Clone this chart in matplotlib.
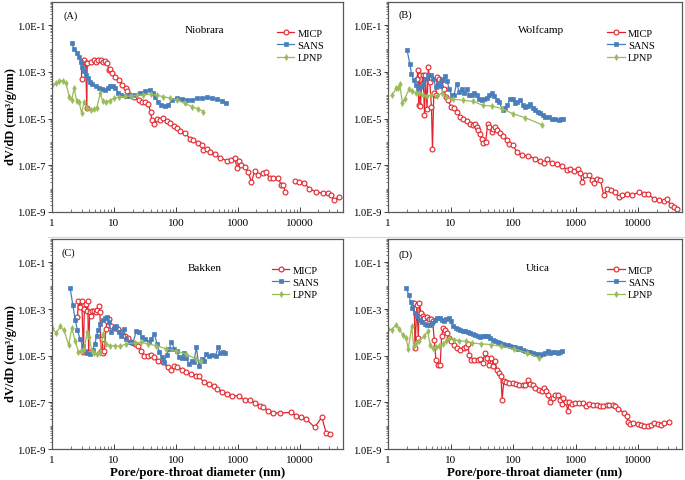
import numpy as np
import matplotlib
matplotlib.use("Agg")
import matplotlib.pyplot as plt
from matplotlib.ticker import FixedLocator, FuncFormatter, LogLocator, NullFormatter
from matplotlib.lines import Line2D

plt.rcParams['font.family'] = ['Liberation Serif', 'DejaVu Serif']

nan = np.nan

# ---------------- Panel A: Niobrara ----------------
micp_a_x = [3.0, 3.0, 3.3, 3.5, 3.65, 3.7, 4.2, 4.7, 5.1, 5.5, 6.1, 6.7, 7.3, 7.8, 8.3, 8.8, 9.4, 10.6, 12, 13.6,
            15.4, 16.4, 18.5, 21, 25, 28.5, 32, 36, 39, 41, 44, 50, 56, 63, 72, 81, 92, 104, 117, 141,
            170, 192, 231, 261, 278, 314, 355, 428, 514, 658, 791, 895, 975, 1050, 1145, 1295, 1465, 1660, 1875, 2120,
            2550, 2880, 3260, 3690, 4440, 5010, 5470, 5890, nan, 8410, 9880, 11900, 14300, 18300, 23400, 28100, 31800, 36000, 43300]
micp_a_y = [4.9e-4, 2.8e-3, 3.3e-3, 2.4e-3, 2.8e-5, 2.4e-3, 2.8e-3, 3.3e-3, 2.8e-3, 3.3e-3,
            3.3e-3, 2.8e-3, 3.1e-3, 2.4e-3, 1.2e-3, 1.4e-3, 8.7e-4, 6.3e-4, 4.5e-4, 2.8e-4,
            2.0e-4, 1.5e-4, 1.0e-4, 8.2e-5, 6.3e-5, 5.4e-5, 5.0e-5, 4.1e-5, 2.0e-5, 8.7e-6,
            5.7e-6, 1.0e-5, 8.7e-6, 1.1e-5, 7.9e-6, 6.3e-6, 4.9e-6, 3.9e-6, 3.0e-6, 2.4e-6,
            1.4e-6, 1.2e-6, 8.8e-7, 7.4e-7, 4.5e-7, 5.0e-7, 3.6e-7, 3.0e-7, 2.1e-7, 1.6e-7,
            1.7e-7, 2.0e-7, 7.4e-8, 1.5e-7, 1.0e-7, 8.7e-8, 5.4e-8, 1.9e-8, 5.7e-8, 3.9e-8,
            4.6e-8, 5.0e-8, 2.8e-8, 3.0e-8, 3.0e-8, 1.5e-8, 1.4e-8, 6.9e-9, nan, 2.1e-8,
            1.9e-8, 1.7e-8, 1.0e-8, 7.4e-9, 6.3e-9, 6.3e-9, 5.4e-9, 3.3e-9, 4.5e-9]
sans_a_x = [2.07, 2.28, 2.52, 2.75, 2.92, 3.1, 3.3, 3.5, 3.83, 4.1, 4.5, 5.1, 5.7, 6.5, 7.3, 8.0, 8.8, 9.6, 10.6, 11.6,
            12.8, 15.4, 18.5, 22.3, 26.8, 32, 38, 43, 46.6, 51, 57, 67, 76, 86, 104, 125, 150, 180, 217, 261,
            314, 378, 455, 547, 642]
sans_a_y = [1.7e-2, 1.0e-2, 6.7e-3, 4.3e-3, 2.8e-3, 1.7e-3, 1.1e-3, 7.4e-4, 5.4e-4, 3.9e-4,
            3.0e-4, 2.4e-4, 2.0e-4, 1.8e-4, 1.7e-4, 2.0e-4, 2.5e-4, 2.6e-4, 2.0e-4, 1.3e-4,
            1.0e-4, 9.7e-5, 9.7e-5, 1.0e-4, 1.2e-4, 1.5e-4, 1.7e-4, 1.3e-4, 8.8e-5, 5.4e-5,
            3.9e-5, 3.6e-5, 3.9e-5, 6.3e-5, 7.4e-5, 6.9e-5, 6.3e-5, 6.3e-5, 7.4e-5, 7.4e-5,
            8.2e-5, 7.4e-5, 6.9e-5, 5.9e-5, 4.9e-5]
lpnp_a_x = [1.0, 1.15, 1.3, 1.48, 1.68, 1.9, 2.07, 2.28, 2.5, 2.75, 3.0, 3.3, 3.7, 4.2, 4.7, 5.3, 6.0, 6.6, 7.4, 8.5,
            10, 12, 15, 19, 24, 30, 39, 50, 63, 80, 104, 140, 181, 230, 278]
lpnp_a_y = [2.8e-4, 3.3e-4, 4.1e-4, 4.3e-4, 3.3e-4, 8.8e-5, 6.3e-5, 2.0e-4, 5.7e-5, 5.0e-5,
            1.8e-5, 5.0e-5, 3.0e-5, 2.4e-5, 2.5e-5, 3.0e-5, 1.2e-4, 5.5e-5, 5.0e-5, 6.0e-5,
            7.5e-5, 8.5e-5, 9.0e-5, 9.5e-5, 1.0e-4, 1.05e-4, 1.1e-4, 1.0e-4, 8.8e-5, 7.5e-5,
            6.3e-5, 4.5e-5, 3.3e-5, 2.6e-5, 2.0e-5]

# ---------------- Panel B: Wolfcamp ----------------
micp_b_x = [2.92, 3.0, 3.1, 3.2, 3.3, 3.45, 3.64, 3.83, 3.97, 4.2, 4.4, 4.66, 4.95, 5.14, 5.4, 5.8, 6.1, 6.6, 7.2, 7.8,
            8.4, 9.2, 10.1, 11.5, 12.8, 14.1, 16, 18.1, 20.4, 23.1, 24.5, 26, 27.8, 29.6, 31.4, 33.4, 36.4, 39.2, 41.7, 45.5,
            48.3, 51.4, 56, 62, 70, 79, 87, 99, 115, 138, 176, 225, 271, 307, 347, 417, 502, 604, 726, 820,
            929, 1077, 1190, 1260, 1430, 1620, 1830, 1950, 2200, 2490, 2810, 3180, 3690, 4170, 4900, 5540, 6670, 8010, 10250, 12300,
            14300, 17800, 21500, 25800, 29200, 33000, 37300, 42300]
micp_b_y = [5.2e-4, 1.2e-3, 3.7e-5, 7.2e-4, 3.5e-5, 3.2e-4, 7.2e-4, 1.5e-5, 7.2e-4, 2.7e-5,
            1.6e-3, 3.7e-4, 3.2e-5, 5.2e-7, 1.3e-4, 1.0e-4, 6.1e-4, 5.2e-4, 4.4e-4, 1.9e-4,
            8.5e-5, 6.1e-5, 3.2e-5, 2.9e-5, 2.0e-5, 1.2e-5, 9.3e-6, 7.6e-6, 6.1e-6, 5.2e-6,
            6.1e-6, 4.4e-6, 3.2e-6, 2.3e-6, 1.4e-6, 9.3e-7, 1.0e-6, 6.1e-6, 4.4e-6, 2.7e-6,
            3.7e-6, 4.4e-6, 3.4e-6, 2.5e-6, 1.8e-6, 1.2e-6, 8.5e-7, 7.2e-7, 3.7e-7, 2.7e-7,
            2.5e-7, 1.9e-7, 1.5e-7, 1.3e-7, 1.8e-7, 1.2e-7, 1.1e-7, 9.3e-8, 6.1e-8, 7.2e-8,
            5.5e-8, 7.2e-8, 4.9e-8, 1.9e-8, 3.7e-8, 3.7e-8, 2.3e-8, 1.8e-8, 2.7e-8, 2.3e-8,
            5.2e-9, 9.3e-9, 8.5e-9, 7.2e-9, 4.4e-9, 5.2e-9, 6.1e-9, 5.2e-9, 7.2e-9, 6.1e-9,
            5.7e-9, 3.7e-9, 3.2e-9, 2.9e-9, 3.5e-9, 1.9e-9, 1.6e-9, 1.4e-9]
sans_b_x = [2.02, 2.23, 2.37, 2.58, 2.78, 3.03, 3.3, 3.64, 4.0, 4.4, 4.8, 5.3, 5.8, 6.3, 6.9, 7.4, 8.1, 8.8, 9.5, 10.4,
            11.3, 12.5, 13.8, 15, 16.4, 18.1, 19.9, 21.7, 23.7, 26, 28.8, 31.4, 34, 37.8, 41.7, 45.5, 49.6, 54.7, 60, 68,
            74, 81, 90, 99, 108, 117, 130, 143, 156, 170, 187, 207, 225, 249, 271, 299, 326, 369, 417, 472,
            533, 582, 626]
sans_b_y = [8.5e-3, 2.3e-3, 8.5e-4, 4.4e-4, 2.7e-4, 1.9e-4, 2.3e-4, 3.2e-4, 5.2e-4, 7.2e-4,
            7.7e-4, 5.2e-4, 2.3e-4, 3.2e-4, 2.5e-4, 4.4e-4, 6.8e-4, 4.0e-4, 1.9e-4, 1.0e-4,
            1.0e-4, 3.2e-4, 1.4e-4, 1.9e-4, 1.2e-4, 1.8e-4, 1.0e-4, 1.0e-4, 1.2e-4, 1.0e-4,
            7.2e-5, 6.1e-5, 7.2e-5, 7.6e-5, 1.0e-4, 1.2e-4, 9.5e-5, 6.5e-5, 5.2e-5, 2.3e-5,
            2.9e-5, 4.0e-5, 6.8e-5, 6.8e-5, 4.9e-5, 5.2e-5, 6.1e-5, 4.0e-5, 3.2e-5, 3.6e-5,
            4.4e-5, 2.9e-5, 2.3e-5, 1.9e-5, 1.8e-5, 1.4e-5, 1.2e-5, 1.2e-5, 1.0e-5, 9.8e-6,
            8.5e-6, 9.8e-6, 1.0e-5]
lpnp_b_x = [1.17, 1.36, 1.45, 1.54, 1.7, 1.85, 2.17, 2.46, 2.78, 3.14, 3.64, 4.2, 4.95, 5.96, 7.2, 8.6, 11, 16, 23, 33,
            45.5, 66, 101, 156, 288]
lpnp_b_y = [1.0e-4, 2.1e-4, 2.1e-4, 3.0e-4, 4.9e-5, 7.2e-5, 1.8e-4, 1.5e-4, 1.3e-4, 1.2e-4,
            1.0e-4, 9.6e-5, 1.0e-4, 9.6e-5, 1.2e-4, 8.5e-5, 6.8e-5, 6.1e-5, 5.5e-5, 3.7e-5,
            3.5e-5, 2.7e-5, 1.6e-5, 1.1e-5, 5.5e-6]

# ---------------- Panel C: Bakken ----------------
micp_c_x = [2.58, 2.67, 2.84, 3.02, 3.21, 3.33, 3.5, 3.63, 3.77, 3.91, 4.06, 4.21, 4.42, 4.76, 5.06, 5.38, 5.65, 5.93, 6.23, 6.47,
            6.71, 7.04, 7.4, 7.78, 8.37, 9.1, 10.3, 11.7, 13.2, 14.9, 16.9, 19.1, 21.5, 24.4, 27.5, 31.1, 35.2, 39.8, 45, 51,
            61, 74, 83, 94, 106, 125, 148, 174, 209, 236, 284, 342, 410, 464, 558, 671, 807, 1030, 1318, 1585,
            1905, 2290, 2590, 3110, 3740, 4790, 7360, 8850, 10600, 12800, 17400, 22800, 26700, 31000]
micp_c_y = [4.4e-4, 2.1e-3, 1.2e-3, 2.3e-3, 1.4e-5, 1.0e-3, 1.6e-3, 8.5e-4, 2.1e-3, 1.4e-5,
            7.2e-4, 4.9e-4, 8.5e-4, 8.5e-4, 7.2e-4, 9.3e-4, 1.4e-3, 7.2e-4, 1.6e-5, 5.2e-5,
            1.3e-5, 1.6e-5, 1.4e-4, 3.2e-4, 3.7e-4, 1.9e-4, 1.6e-4, 1.4e-4, 1.0e-4, 7.2e-5,
            5.5e-5, 3.7e-5, 3.2e-5, 2.5e-5, 1.6e-5, 9.3e-6, 1.0e-5, 1.1e-5, 8.5e-6, 6.1e-6,
            5.2e-6, 3.2e-6, 2.5e-6, 3.7e-6, 3.2e-6, 2.5e-6, 1.9e-6, 1.6e-6, 1.4e-6, 1.3e-6,
            7.2e-7, 6.1e-7, 4.9e-7, 3.7e-7, 2.9e-7, 2.3e-7, 1.9e-7, 1.9e-7, 1.2e-7, 1.3e-7,
            9.3e-8, 7.2e-8, 6.1e-8, 4.4e-8, 3.5e-8, 3.5e-8, 3.7e-8, 2.7e-8, 2.3e-8, 1.9e-8,
            8.5e-9, 2.3e-8, 4.9e-9, 4.4e-9]
sans_c_x = [1.96, 2.17, 2.36, 2.58, 2.84, 3.13, 3.41, 3.72, 4.1, 4.53, 4.94, 5.25, 5.58, 5.93, 6.55, 7.13, 7.78, 8.37, 9.1, 10,
            11, 12, 13.2, 14.4, 15.8, 17.9, 20.3, 22.9, 25.3, 28.6, 32.3, 36.5, 39.8, 45, 49.7, 54, 60, 65, 71, 78,
            85, 94, 103, 113, 125, 136, 148, 163, 180, 196, 214, 236, 261, 284, 310, 342, 386, 437, 482, 525,
            571, 615]
sans_c_y = [7.9e-3, 1.5e-3, 3.5e-4, 1.2e-4, 5.2e-5, 2.5e-5, 1.6e-5, 1.3e-5, 1.2e-5, 1.8e-5,
            3.2e-5, 7.2e-5, 1.2e-4, 2.3e-4, 3.5e-4, 4.0e-4, 4.4e-4, 2.7e-4, 1.0e-4, 1.5e-4,
            1.8e-4, 1.0e-4, 6.8e-5, 1.4e-4, 5.2e-5, 4.0e-5, 3.5e-5, 1.1e-4, 1.0e-4, 6.1e-5,
            5.2e-5, 4.0e-5, 5.2e-5, 8.5e-5, 3.2e-5, 1.4e-5, 8.5e-6, 5.2e-6, 1.1e-5, 1.9e-5,
            4.0e-5, 2.0e-5, 1.6e-5, 8.5e-6, 7.6e-6, 1.3e-5, 7.6e-6, 4.4e-6, 6.1e-6, 5.5e-6,
            2.3e-5, 3.7e-6, 7.2e-6, 6.1e-6, 1.2e-5, 1.0e-5, 1.1e-5, 1.0e-5, 2.3e-5, 1.3e-5,
            1.4e-5, 1.3e-5]
lpnp_c_x = [1.0, 1.17, 1.36, 1.57, 1.85, 2.09, 2.36, 2.67, 2.94, 3.29, 3.72, 4.0, 4.37, 4.82, 5.38, 5.93, 6.71, 7.4, 8.58, 10.3,
            12.4, 15.8, 21.5, 27.5, 35.2, 48, 69, 100, 144, 209, 251]
lpnp_c_y = [1.6e-4, 9.3e-5, 1.8e-4, 1.2e-4, 2.9e-5, 1.5e-4, 4.4e-5, 1.5e-5, 1.6e-5, 1.9e-5,
            1.0e-4, 6.1e-5, 1.6e-5, 1.3e-5, 1.2e-5, 1.3e-5, 8.5e-5, 3.2e-5, 2.7e-5, 2.7e-5,
            2.5e-5, 3.2e-5, 3.5e-5, 3.7e-5, 3.2e-5, 2.7e-5, 2.0e-5, 1.6e-5, 1.2e-5, 7.2e-6,
            6.1e-6]

# ---------------- Panel D: Utica ----------------
micp_d_x = [2.63, 2.7, 2.9, 3.05, 3.16, 3.36, 3.57, 3.8, 4.19, 4.57, 4.86, 5.16, 5.49, 5.83, 6.35, 6.84, 7.18, 7.64, 8.12, 8.74,
            9.5, 10.1, 11.5, 12.9, 14.3, 16.1, 17.6, 18.7, 19.9, 21.1, 23.9, 27, 29.7, 32.4, 35.3, 38, 41.4, 45.1, 48.5, 51,
            54.9, 59.8, 63.6, 66.7, 71, 77, 87, 99, 112, 126, 143, 157, 171, 187, 206, 227, 257, 290, 316, 336,
            357, 389, 429, 474, 516, 562, 598, 635, 701, 745, 792, 874, 988, 1117, 1294, 1462, 1652, 1914, 2163, 2444,
            2761, 3126, 3444, 3890, 4293, 4677, 5980, 6520, 6920, 7450, 8320, 9750, 11000, 12500, 14100, 15900, 18000, 20400, 23000, 26000,
            31200]
micp_d_y = [1.8e-3, 2.1e-5, 1.5e-3, 5.7e-5, 1.8e-3, 6.8e-4, 4.9e-4, 4.1e-4, 4.4e-4, 3.7e-4,
            3.9e-4, 3.2e-4, 4.9e-5, 6.8e-6, 4.1e-6, 4.1e-6, 6.8e-5, 1.5e-4, 1.2e-4, 9.3e-5,
            5.7e-5, 4.4e-5, 2.8e-5, 2.1e-5, 1.8e-5, 2.1e-5, 2.3e-5, 3.2e-5, 1.1e-5, 6.8e-6,
            6.8e-6, 6.8e-6, 7.4e-6, 4.9e-6, 1.3e-5, 7.9e-6, 3.9e-6, 7.9e-6, 3.5e-6, 5.7e-6,
            2.5e-6, 1.8e-6, 1.4e-6, 1.3e-7, 8.5e-7, 7.4e-7, 6.8e-7, 6.8e-7, 6.1e-7, 5.7e-7,
            5.4e-7, 5.7e-7, 9.3e-7, 6.1e-7, 5.4e-7, 4.1e-7, 3.5e-7, 3.0e-7, 4.1e-7, 3.2e-7,
            2.1e-7, 1.0e-7, 1.5e-7, 2.0e-7, 2.1e-7, 1.3e-7, 8.5e-8, 1.6e-7, 1.0e-7, 4.4e-8,
            1.0e-7, 8.5e-8, 9.3e-8, 9.3e-8, 9.3e-8, 6.8e-8, 8.5e-8, 7.4e-8, 7.4e-8, 6.8e-8,
            6.8e-8, 7.4e-8, 7.9e-8, 7.4e-8, 6.8e-8, 5.4e-8, 3.5e-8, 2.5e-8, 1.5e-8, 1.2e-8,
            1.3e-8, 1.2e-8, 1.1e-8, 1.0e-8, 9.3e-9, 1.1e-8, 1.3e-8, 1.2e-8, 1.1e-8, 1.3e-8,
            1.4e-8]
sans_d_x = [1.96, 2.16, 2.3, 2.44, 2.67, 2.9, 3.2, 3.53, 3.85, 4.19, 4.62, 5.1, 5.56, 6.05, 6.67, 7.27, 7.92, 8.53, 9.3, 10,
            10.9, 12, 13.1, 14.3, 15.7, 17.3, 18.9, 20.8, 22.7, 25, 27.3, 30, 32.8, 36, 39.4, 43, 47.4, 51.6, 57, 62,
            68, 75, 82, 90, 99, 108, 119, 129, 143, 157, 171, 187, 206, 227, 248, 270, 297, 324, 357, 389,
            429, 474, 516, 562, 605]
sans_d_y = [7.9e-3, 3.9e-3, 2.0e-3, 1.1e-3, 6.8e-4, 4.9e-4, 3.5e-4, 2.8e-4, 2.3e-4, 2.1e-4,
            2.1e-4, 2.5e-4, 3.5e-4, 4.1e-4, 4.1e-4, 3.5e-4, 3.0e-4, 3.9e-4, 4.1e-4, 3.0e-4,
            1.8e-4, 1.6e-4, 1.4e-4, 1.3e-4, 1.1e-4, 1.1e-4, 1.0e-4, 9.3e-5, 8.5e-5, 7.4e-5,
            6.8e-5, 6.1e-5, 6.8e-5, 6.8e-5, 6.8e-5, 5.7e-5, 4.9e-5, 4.1e-5, 3.7e-5, 3.5e-5,
            3.2e-5, 3.0e-5, 2.8e-5, 2.5e-5, 2.3e-5, 2.3e-5, 2.0e-5, 2.1e-5, 1.8e-5, 1.6e-5,
            1.5e-5, 1.4e-5, 1.3e-5, 1.2e-5, 1.2e-5, 1.1e-5, 1.2e-5, 1.3e-5, 1.6e-5, 1.3e-5,
            1.5e-5, 1.4e-5, 1.3e-5, 1.5e-5, 1.6e-5]
lpnp_d_x = [1.0, 1.15, 1.34, 1.52, 1.71, 1.94, 2.11, 2.39, 2.57, 2.8, 3.16, 3.8, 4.3, 4.74, 5.16, 5.83, 6.6, 7.45, 8.43, 9.5,
            11.5, 13.7, 17.6, 22.4, 30.5, 44, 63.6, 104, 169, 263]
lpnp_d_y = [1.4e-4, 1.3e-4, 2.1e-4, 1.4e-4, 7.9e-5, 5.7e-5, 2.0e-5, 1.8e-4, 2.5e-5, 3.5e-5,
            4.4e-5, 6.8e-5, 1.1e-4, 2.8e-5, 2.1e-5, 2.3e-5, 2.5e-5, 3.2e-5, 4.1e-5, 5.7e-5,
            4.9e-5, 4.4e-5, 4.1e-5, 3.5e-5, 3.2e-5, 3.0e-5, 2.5e-5, 2.0e-5, 1.3e-5, 7.9e-6]

panel_tags = ["(A)", "(B)", "(C)", "(D)"]
formations = ["Niobrara", "Wolfcamp", "Bakken", "Utica"]
series_names = ["MICP", "SANS", "LPNP"]
x_tick_values = [1, 10, 100, 1000, 10000]
y_tick_values = [1e-9, 1e-7, 1e-5, 1e-3, 1e-1]

data = [
    [(micp_a_x, micp_a_y), (sans_a_x, sans_a_y), (lpnp_a_x, lpnp_a_y)],
    [(micp_b_x, micp_b_y), (sans_b_x, sans_b_y), (lpnp_b_x, lpnp_b_y)],
    [(micp_c_x, micp_c_y), (sans_c_x, sans_c_y), (lpnp_c_x, lpnp_c_y)],
    [(micp_d_x, micp_d_y), (sans_d_x, sans_d_y), (lpnp_d_x, lpnp_d_y)],
]

RED = '#e3232b'
BLUE = '#4a7ebb'
GREEN = '#9bbb59'
styles = [
    dict(color=RED, marker='o', markersize=3.5, markerfacecolor='white', markeredgecolor=RED,
         markeredgewidth=0.8, linewidth=0.9),
    dict(color=BLUE, marker='s', markersize=3.4, markerfacecolor=BLUE, markeredgecolor=BLUE,
         markeredgewidth=0.5, linewidth=0.9),
    dict(color=GREEN, marker='d', markersize=3.0, markerfacecolor=GREEN, markeredgecolor=GREEN,
         markeredgewidth=0.5, linewidth=0.9),
]

W, H = 685, 481
fig = plt.figure(figsize=(W / 100, H / 100), dpi=100)

# faint separator between chart areas (as in the original composite)
fig.add_artist(Line2D([0.07, 1.0], [1 - 237.5 / H, 1 - 237.5 / H], color='#d6d6d6', linewidth=0.8))

# axes rectangles in pixels: left, top, right, bottom
rects = [(52, 3, 343, 213), (388, 3, 682, 213), (52, 240, 343, 450), (388, 240, 682, 450)]
legend_anchor = [(0.772, 0.875), (0.745, 0.875), (0.755, 0.875), (0.745, 0.875)]
tag_pos = [(0.065, 0.935), (0.06, 0.942), (0.055, 0.935), (0.06, 0.93)]
title_pos = [(0.525, 0.87), (0.522, 0.87), (0.525, 0.865), (0.51, 0.865)]

for i in range(4):
    l, t, r, b = rects[i]
    ax = fig.add_axes([l / W, 1 - b / H, (r - l) / W, (b - t) / H])
    ax.set_xscale('log')
    ax.set_yscale('log')
    handles = []
    for (xs, ys), st, name in zip(data[i], styles, series_names):
        h, = ax.plot(xs, ys, label=name, **st)
        handles.append(h)
    ax.set_xlim(1, 50000)
    ax.set_ylim(1e-9, 1)

    ax.xaxis.set_major_locator(FixedLocator(x_tick_values))
    ax.xaxis.set_major_formatter(FuncFormatter(lambda v, p: f"{v:g}"))
    ax.xaxis.set_minor_locator(LogLocator(base=10, subs=np.arange(2, 10), numticks=20))
    ax.xaxis.set_minor_formatter(NullFormatter())
    ax.yaxis.set_major_locator(FixedLocator(y_tick_values))
    ax.yaxis.set_major_formatter(FuncFormatter(lambda v, p: "1.0E%d" % int(round(np.log10(v)))))
    ax.yaxis.set_minor_locator(LogLocator(base=10, subs=np.arange(1, 10), numticks=30))
    ax.yaxis.set_minor_formatter(NullFormatter())

    ax.tick_params(axis='x', which='major', direction='in', length=3.5, width=0.7, colors='#404040',
                   labelsize=8, pad=4, labelcolor='black')
    ax.tick_params(axis='x', which='minor', direction='in', length=2, width=0.5, colors='#404040')
    ax.tick_params(axis='y', which='major', direction='out', length=3.0, width=0.7, colors='#404040',
                   labelsize=7.6, pad=1.8, labelcolor='black')
    ax.tick_params(axis='y', which='minor', direction='out', length=1.8, width=0.5, colors='#404040')
    for sp in ax.spines.values():
        sp.set_color('#595959')
        sp.set_linewidth(0.9)

    ax.text(*tag_pos[i], panel_tags[i], transform=ax.transAxes, fontsize=7.5, ha='center', va='center')
    ax.text(*title_pos[i], formations[i], transform=ax.transAxes, fontsize=8, ha='center', va='center')

    ax.legend(handles=handles, loc='upper left', bbox_to_anchor=legend_anchor[i], frameon=False,
              fontsize=7.5, handlelength=1.7, handletextpad=0.3, labelspacing=0.3,
              borderpad=0, borderaxespad=0, numpoints=1)

    if i in (0, 2):
        ax.set_ylabel("dV/dD (cm³/g/nm)", fontsize=9, fontweight='bold')
        ax.yaxis.set_label_coords(-0.12, 0.46)
    if i in (2, 3):
        ax.set_xlabel("Pore/pore-throat diameter (nm)", fontsize=9.3, fontweight='bold', labelpad=2)

fig.savefig("out.png", dpi=100)
